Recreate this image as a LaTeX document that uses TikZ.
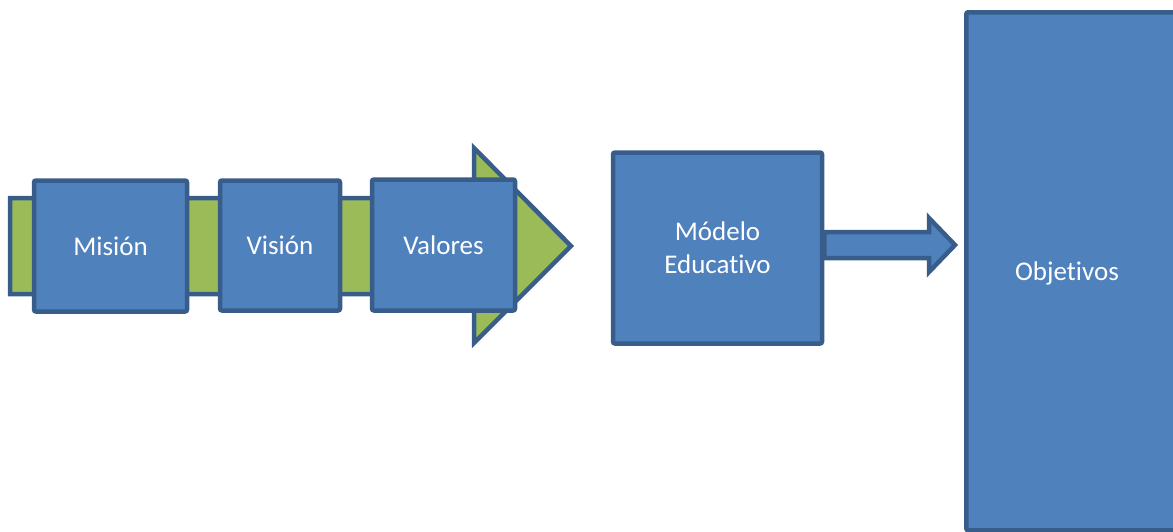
\documentclass[tikz,border=0pt]{standalone}
\usepackage{fontspec}
\setmainfont[Ligatures=NoCommon]{Carlito}
\definecolor{boxblue}{HTML}{4F81BD}
\definecolor{edgeblue}{HTML}{385D8A}
\definecolor{arrowgreen}{HTML}{9BBB59}
\tikzset{
  box/.style={draw=edgeblue, fill=boxblue, line width=2.25pt, rounded corners=1pt,
    text=white, font=\fontsize{13.5}{16.5}\selectfont, align=center, inner sep=0pt},
  block/.style={draw=edgeblue, line width=2.25pt, line join=miter}
}
\begin{document}
\begin{tikzpicture}[x=0.5pt,y=-0.5pt]

      \useasboundingbox (0,0) rectangle (1173,531);

      %%% green arrow behind the first three boxes %%%
      \draw[block, fill=arrowgreen]
      (10,198) -- (474,198) -- (474,148) -- (571,246)
      -- (474,343) -- (474,294) -- (10,294) -- cycle;

      \node (mision) at (110.5,246) [box, minimum width=76.5pt, minimum height=65.5pt] {Misión};
      \node (vision) at (280,245.5) [box, minimum width=60pt, minimum height=65pt] {Visión};
      \node (valores) at (443.5,245) [box, minimum width=71.5pt, minimum height=65.5pt] {Valores};

      %%% second part %%%
      \node (modelo) at (717.5,248) [box, minimum width=104.5pt, minimum height=95.5pt] {Módelo\\Educativo};
      \node (objetivos) at (964,10) [box, anchor=north west, minimum width=140pt, minimum height=259pt] {};
      \node (objtext) at (1067,273) [text=white, font=\fontsize{13.5}{16.5}\selectfont] {Objetivos};

      \draw[block, fill=boxblue]
      (modelo.east |- 0,232) -- (929,232) -- (929,218) -- (955,245)
      -- (929,272) -- (929,258) -- (modelo.east |- 0,258) -- cycle;

    \end{tikzpicture}
\end{document}
